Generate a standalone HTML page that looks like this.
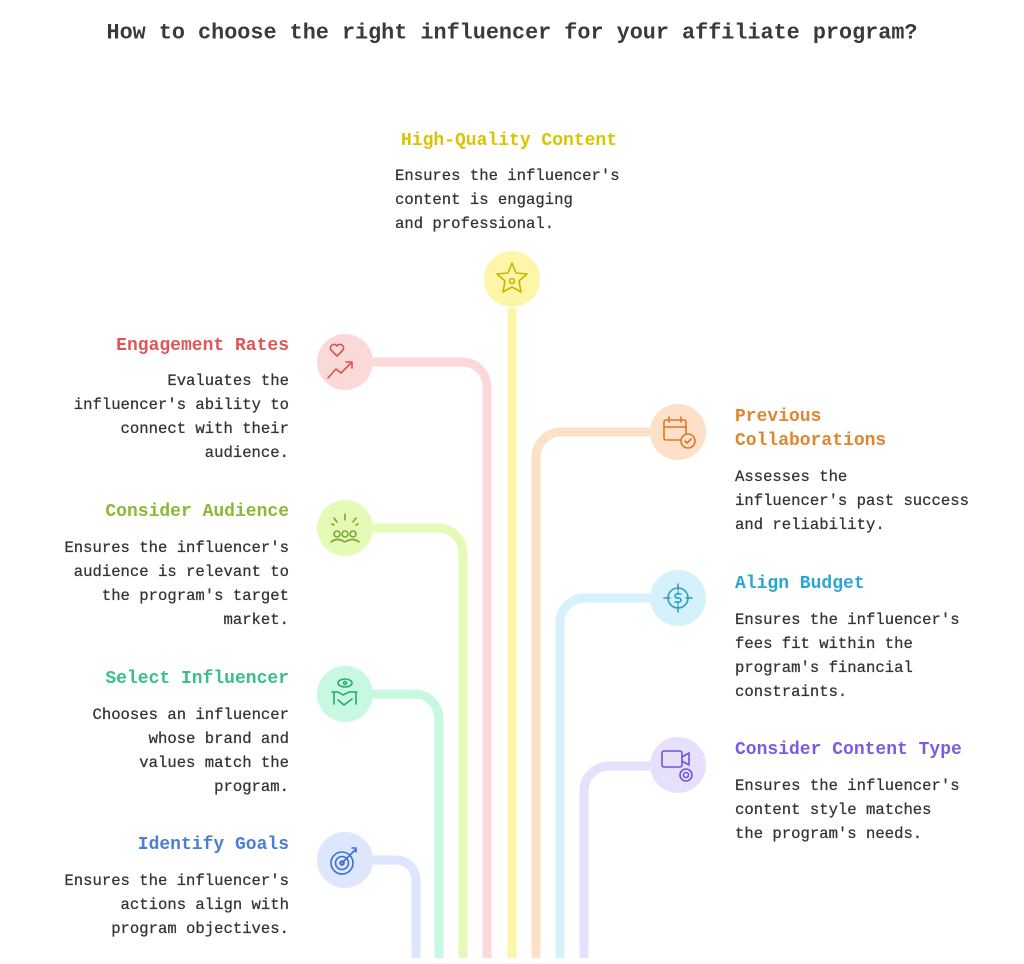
<!DOCTYPE html>
<html><head><meta charset="utf-8"><style>
html,body{margin:0;padding:0;background:#fff;}
svg{display:block;}
text{font-family:"Liberation Mono",monospace;}
.t{font-size:15.6px;fill:#333;stroke:#333;stroke-width:0.25px;}
.h{font-size:18px;font-weight:bold;}
</style></head><body>
<svg width="1024" height="964" viewBox="0 0 1024 964" xmlns="http://www.w3.org/2000/svg">
<text x="512" y="33" text-anchor="middle" dominant-baseline="central" style="font-size:21.8px;font-weight:bold;fill:#3a3a3a">How to choose the right influencer for your affiliate program?</text>
<g fill="none" stroke-width="9" stroke-linecap="butt">
<path d="M512 308 V958" stroke="#fdf6a8"/>
<path d="M373 362 H462 A25 25 0 0 1 487 387 V958" stroke="#fcd9d9"/>
<path d="M373 528 H438 A25 25 0 0 1 463 553 V958" stroke="#e6fab8"/>
<path d="M373 694 H414 A25 25 0 0 1 439 719 V958" stroke="#c6f8e2"/>
<path d="M373 860 H396 A20 20 0 0 1 416 880 V958" stroke="#dde6fc"/>
<path d="M650 432 H561 A25 25 0 0 0 536 457 V958" stroke="#fde0c8"/>
<path d="M650 598 H585 A25 25 0 0 0 560 623 V958" stroke="#d4f1fc"/>
<path d="M650 766 H609 A25 25 0 0 0 584 791 V958" stroke="#e6e0fc"/>
</g>
<circle cx="512" cy="279" r="28" fill="#fdf6a8"/>
<circle cx="345" cy="362" r="28" fill="#fcd9d9"/>
<circle cx="345" cy="528" r="28" fill="#e6fab8"/>
<circle cx="345" cy="694" r="28" fill="#c6f8e2"/>
<circle cx="345" cy="860" r="28" fill="#dde6fc"/>
<circle cx="678" cy="432" r="28" fill="#fde0c8"/>
<circle cx="678" cy="598" r="28" fill="#d4f1fc"/>
<circle cx="678" cy="765" r="28" fill="#e6e0fc"/>
<g fill="none" stroke-width="1.6" stroke-linecap="round" stroke-linejoin="round">
<path d="M512 263 L516 273 L527 274 L519 281 L521 292 L512 287 L503 292 L505 281 L497 274 L508 273 Z" stroke="#c9b400"/>
<circle cx="512" cy="281" r="2.5" stroke="#c9b400"/>
<path d="M337 356 l-6-6 a3.5 3.5 0 0 1 6-4 a3.5 3.5 0 0 1 6 4 Z M328 378 l8-9 5 4 11-11 M346 362 h6 v6" stroke="#d9534f"/>
<path d="M334 518 l3 4 M345 514 v6 M356 518 l-3 4 M332 524 l2 1 M358 524 l-2 1" stroke="#7aa82a"/>
<circle cx="337" cy="534" r="3" stroke="#7aa82a"/><circle cx="345" cy="534" r="3" stroke="#7aa82a"/><circle cx="353" cy="534" r="3" stroke="#7aa82a"/>
<path d="M331 542 q6-5 14 0 q8-5 14 0" stroke="#7aa82a"/>
<ellipse cx="345" cy="683" rx="7" ry="4" stroke="#2aa96b"/><circle cx="345" cy="683" r="1.5" stroke="#2aa96b"/>
<path d="M332 692 h6 l5 3 l6-3 h8 M334 692 v12 M356 692 v12 M338 700 l6 5 l8-6" stroke="#2aa96b"/>
<circle cx="342" cy="863" r="11" stroke="#3b6fd0"/><circle cx="342" cy="863" r="6.5" stroke="#3b6fd0"/><circle cx="342" cy="863" r="2" stroke="#3b6fd0"/>
<path d="M342 863 l13-13 M352 848 l4 0 M356 848 l0 4" stroke="#3b6fd0"/>
<rect x="664" y="420" width="22" height="20" rx="2" stroke="#d9782a"/>
<path d="M664 427 h22 M669 417 v5 M681 417 v5" stroke="#d9782a"/>
<circle cx="688" cy="441" r="7" fill="#fde0c8" stroke="#d9782a"/><path d="M685 441 l2 2 l4-4" stroke="#d9782a"/>
<circle cx="678" cy="598" r="10" stroke="#2a9fc9"/>
<path d="M678 584 v6 M678 606 v6 M664 598 h6 M686 598 h6 M681 594 h-4 a2 2 0 0 0 0 4 h2 a2 2 0 0 1 0 4 h-4 M678 592 v2 M678 602 v2" stroke="#2a9fc9"/>
<rect x="662" y="751" width="20" height="16" rx="2" stroke="#7055d6"/>
<path d="M682 757 l7-4 v12 l-7-4" stroke="#7055d6"/>
<circle cx="686" cy="775" r="6" fill="#e6e0fc" stroke="#7055d6"/><circle cx="686" cy="775" r="2.5" stroke="#7055d6"/>
</g>
<g dominant-baseline="central">
<text class="h" x="401" y="141" fill="#d9c400">High-Quality Content</text>
<text class="t" x="395" y="176">Ensures the influencer's</text>
<text class="t" x="395" y="200">content is engaging</text>
<text class="t" x="395" y="224">and professional.</text>
</g>
<g dominant-baseline="central" text-anchor="end">
<text class="h" x="289" y="346" fill="#e05555">Engagement Rates</text>
<text class="t" x="289" y="381">Evaluates the</text>
<text class="t" x="289" y="405">influencer's ability to</text>
<text class="t" x="289" y="429">connect with their</text>
<text class="t" x="289" y="453">audience.</text>
<text class="h" x="289" y="512" fill="#8db833">Consider Audience</text>
<text class="t" x="289" y="548">Ensures the influencer's</text>
<text class="t" x="289" y="572">audience is relevant to</text>
<text class="t" x="289" y="596">the program's target</text>
<text class="t" x="289" y="620">market.</text>
<text class="h" x="289" y="679" fill="#37c088">Select Influencer</text>
<text class="t" x="289" y="715">Chooses an influencer</text>
<text class="t" x="289" y="739">whose brand and</text>
<text class="t" x="289" y="763">values match the</text>
<text class="t" x="289" y="787">program.</text>
<text class="h" x="289" y="845" fill="#4a7fd6">Identify Goals</text>
<text class="t" x="289" y="881">Ensures the influencer's</text>
<text class="t" x="289" y="905">actions align with</text>
<text class="t" x="289" y="929">program objectives.</text>
</g>
<g dominant-baseline="central">
<text class="h" x="735" y="417" fill="#e0862e">Previous</text>
<text class="h" x="735" y="441" fill="#e0862e">Collaborations</text>
<text class="t" x="735" y="477">Assesses the</text>
<text class="t" x="735" y="501">influencer's past success</text>
<text class="t" x="735" y="525">and reliability.</text>
<text class="h" x="735" y="584" fill="#2aa7d0">Align Budget</text>
<text class="t" x="735" y="620">Ensures the influencer's</text>
<text class="t" x="735" y="644">fees fit within the</text>
<text class="t" x="735" y="668">program's financial</text>
<text class="t" x="735" y="692">constraints.</text>
<text class="h" x="735" y="750" fill="#7a5ce0">Consider Content Type</text>
<text class="t" x="735" y="786">Ensures the influencer's</text>
<text class="t" x="735" y="810">content style matches</text>
<text class="t" x="735" y="834">the program's needs.</text>
</g>
</svg>
</body></html>
